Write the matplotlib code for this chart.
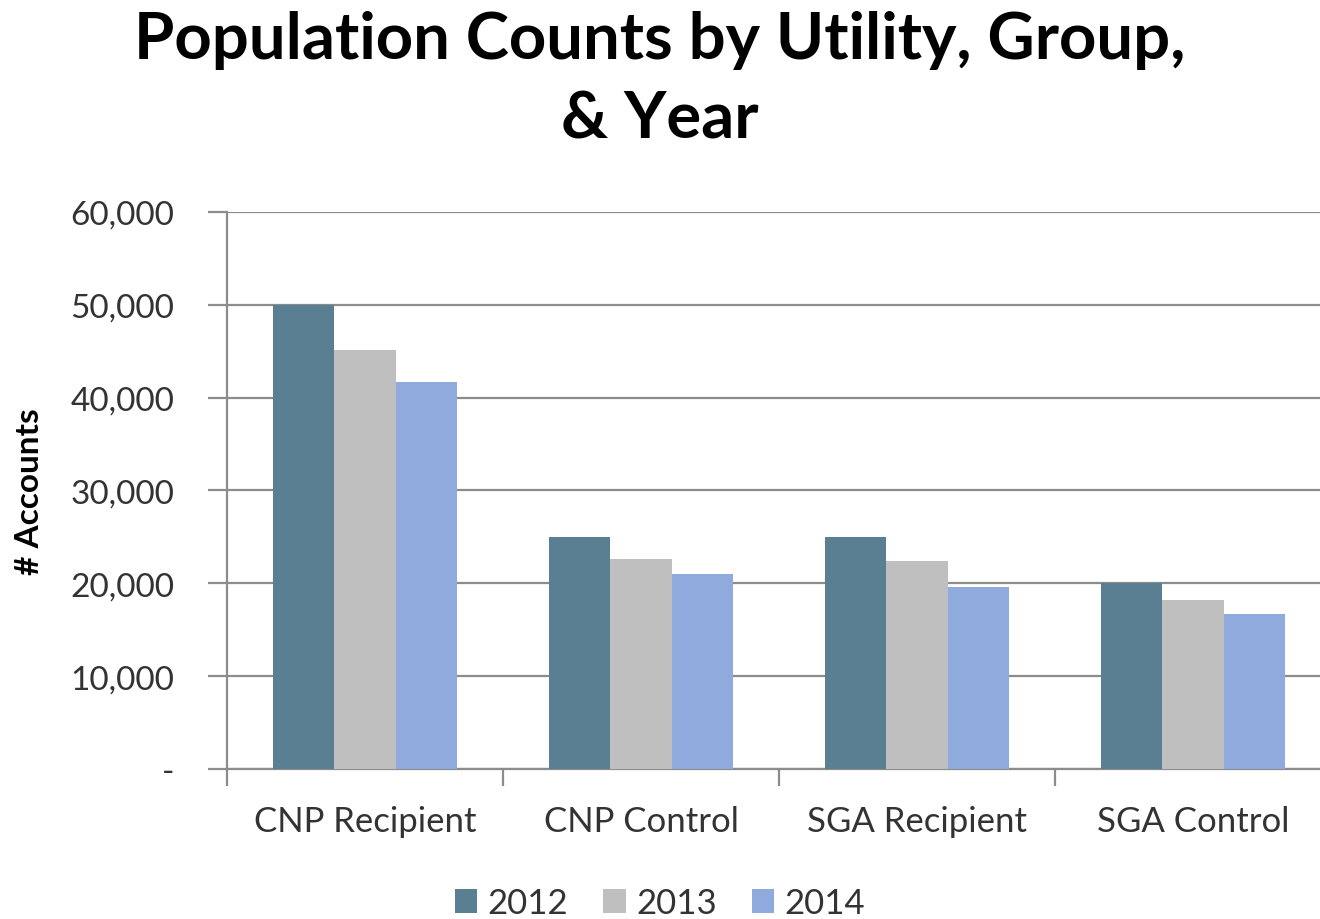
import numpy as np
import matplotlib.pyplot as plt
from matplotlib.ticker import FuncFormatter

categories = ['CNP Recipient', 'CNP Control', 'SGA Recipient', 'SGA Control']
years = ['2012', '2013', '2014']
vals_2012 = [50000, 25000, 25000, 20000]
vals_2013 = [45100, 22600, 22400, 18200]
vals_2014 = [41700, 21000, 19600, 16700]
colors = ['#5B7F92', '#BFBFBF', '#8FAADC']

plt.rcParams['font.family'] = ['Lato', 'DejaVu Sans']

fig = plt.figure(figsize=(13.2, 9.2), dpi=100)
ax = fig.add_axes([227/1320, 1 - 770/920, 1 - 227/1320, (770 - 213)/920])

x = np.arange(len(categories))
w = 0.222
for i, (vals, yr) in enumerate(zip([vals_2012, vals_2013, vals_2014], years)):
    ax.bar(x + (i - 1) * w, vals, width=w, color=colors[i], label=yr, zorder=3)

ax.set_yticks(range(0, 60001, 10000))
ax.yaxis.set_major_formatter(FuncFormatter(lambda v, p: '-' if v == 0 else f'{int(v):,}'))
ax.grid(axis='y', color='#8C8C8C', linewidth=1.6, zorder=0)
ax.set_xticks(x)
ax.set_xticklabels(categories, fontsize=25)
ax.set_xticks(np.arange(-0.5, 3.6, 1), minor=True)
ax.set_ylim(0, 60000)
ax.set_xlim(-0.5, 3.46)  # after ticks so the minor tick at 3.5 doesn't widen it
ax.tick_params(axis='x', which='major', length=0, pad=26, labelcolor='#333333')
ax.tick_params(axis='x', which='minor', length=12, color='#8C8C8C', width=1.6)
ax.tick_params(axis='y', labelsize=24, length=14, color='#8C8C8C', width=1.6, pad=24,
               labelcolor='#333333')
for s in ['top', 'right']:
    ax.spines[s].set_visible(False)
for s in ['left', 'bottom']:
    ax.spines[s].set_color('#8C8C8C')
    ax.spines[s].set_linewidth(1.6)

fig.text(30/1320, 1 - 492/920, '# Accounts', rotation=90, fontsize=24, fontweight='bold',
         ha='center', va='center')

fig.suptitle('Population Counts by Utility, Group,\n& Year', fontsize=47,
             fontweight='bold', y=0.988, x=0.5, linespacing=1.42)

fig.legend(loc='center', bbox_to_anchor=(0.5, 1 - 904/920),
           ncol=3, frameon=False, fontsize=25, handlelength=0.65, handleheight=0.7,
           handletextpad=0.3, columnspacing=1.0, labelcolor='#333333')

fig.savefig('out.png', dpi=100)
